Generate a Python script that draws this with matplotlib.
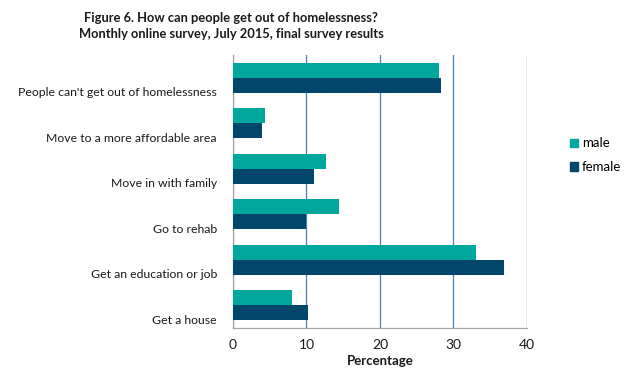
import matplotlib

matplotlib.use("Agg")
import matplotlib.pyplot as plt
import numpy as np
from matplotlib.patches import Patch
from matplotlib.transforms import ScaledTranslation

categories = [
    "Get a house",
    "Get an education or job",
    "Go to rehab",
    "Move in with family",
    "Move to a more affordable area",
    "People can't get out of homelessness",
]
male = [8.0, 33.1, 14.4, 12.6, 4.3, 28.0]
female = [10.2, 36.9, 9.9, 11.0, 3.9, 28.3]
xticks = [0, 10, 20, 30, 40]

MALE_COL = "#00A79D"
FEMALE_COL = "#00476B"
GRID_COL = "#4A7EBB"
AXIS_COL = "#A6A6A6"
TEXT = "#1A1A1A"

plt.rcParams["font.family"] = ["Lato", "DejaVu Sans"]

fig = plt.figure(figsize=(6.33, 3.79), dpi=100)
ax = fig.add_axes([0.368, 0.1346, 0.4645, 0.7204])

y = np.arange(len(categories))
h = 0.33
ax.barh(y + h / 2, male, h, color=MALE_COL, zorder=3)
ax.barh(y - h / 2, female, h, color=FEMALE_COL, zorder=3)

ax.set_xlim(0, 40)
ax.set_ylim(-0.5, len(categories) - 0.5)
ax.set_xticks(xticks)
ax.set_xticklabels([str(t) for t in xticks], fontsize=10, color=TEXT)
ax.set_yticks(y)
ax.set_yticklabels(categories, fontsize=8.8, color=TEXT)
ax.tick_params(axis="both", length=0)
ax.tick_params(axis="y", pad=11.5)
ax.tick_params(axis="x", pad=8)

# Excel puts the category labels a bit below the group centre
shift = ScaledTranslation(0, -14 / 100, fig.dpi_scale_trans)
for lbl in ax.get_yticklabels():
    lbl.set_transform(lbl.get_transform() + shift)

ax.grid(True, axis="x", color=GRID_COL, linewidth=0.9, zorder=0)
ax.set_axisbelow(True)
for s in ("top", "right"):
    ax.spines[s].set_visible(False)
for s in ("left", "bottom"):
    ax.spines[s].set_color(AXIS_COL)
    ax.spines[s].set_linewidth(0.9)

ax.set_xlabel("Percentage", fontsize=9.5, fontweight="bold", color=TEXT, labelpad=3)

fig.text(0.365, 0.968, "Figure 6. How can people get out of homelessness?\n"
         "Monthly online survey, July 2015, final survey results",
         ha="center", va="top", fontsize=9.3, fontweight="bold", color=TEXT,
         linespacing=1.4)

handles = [Patch(color=MALE_COL, label="male"), Patch(color=FEMALE_COL, label="female")]
fig.legend(handles=handles, loc="center left", bbox_to_anchor=(0.89, 0.59),
           frameon=False, fontsize=9.5, handlelength=0.6, handleheight=0.6,
           handletextpad=0.3, labelspacing=0.9, borderpad=0)

fig.savefig("out.png", dpi=100)
